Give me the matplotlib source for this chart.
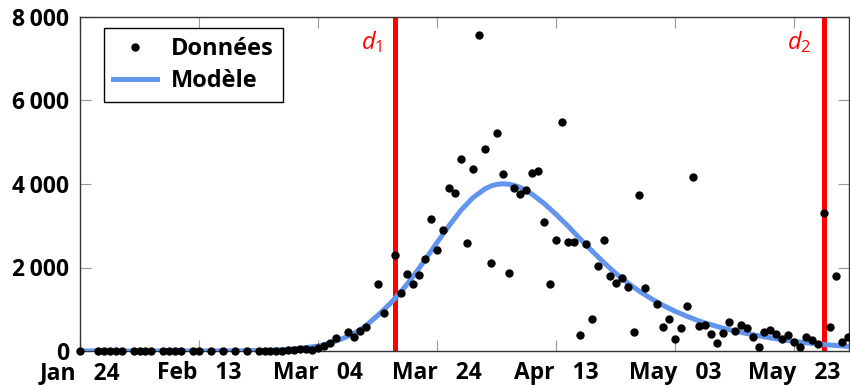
import numpy as np
import matplotlib
matplotlib.use('Agg')
import matplotlib.pyplot as plt
from matplotlib.lines import Line2D

plt.rcParams['font.family'] = ['Open Sans', 'DejaVu Sans']
plt.rcParams['mathtext.fontset'] = 'custom'
plt.rcParams['mathtext.it'] = 'Open Sans:italic'
plt.rcParams['mathtext.rm'] = 'Open Sans'

# ---- data : days counted from Jan 24 ----
days = [0, 3, 4, 5, 6, 7, 9, 10, 11, 12, 14, 15, 16, 17, 19, 20, 22, 24, 26, 28,
        30, 31, 32, 33, 34, 35, 36, 37, 38, 39, 40, 41, 42, 43, 45, 46, 47, 48, 50, 51,
        53, 54, 55, 56, 57, 58, 59, 60, 61, 62, 63, 64, 65, 66, 67, 68, 69, 70, 71, 72,
        73, 74, 75, 76, 77, 78, 79, 80, 81, 82, 83, 84, 85, 86, 87, 88, 89, 90, 91, 92,
        93, 94, 95, 97, 98, 99, 100, 101, 102, 103, 104, 105, 106, 107, 108, 109, 110, 111, 112, 113,
        114, 115, 116, 117, 118, 119, 120, 121, 122, 123, 124, 125, 126, 127, 128, 129]
cases = [0, 0, 0, 0, 0, 0, 0, 0, 0, 0, 0, 0, 0, 0, 0, 0, 0, 0, 0, 0,
         0, 0, 0, 0, 5, 20, 25, 40, 55, 20, 70, 130, 190, 315, 447, 347, 479, 575, 1608, 902,
         2288, 1385, 1844, 1597, 1828, 2211, 3154, 2426, 2905, 3896, 3792, 4591, 2579, 4351, 7560, 4846, 2100, 5213, 4247, 1860,
         3896, 3756, 3860, 4259, 4323, 3094, 1597, 2656, 5485, 2614, 2614, 390, 2552, 766, 2036, 2654, 1806, 1636, 1760, 1521,
         445, 3744, 1505, 1126, 583, 766, 287, 559, 1086, 4163, 603, 627, 419, 184, 435, 687, 479, 615, 543, 347,
         96, 463, 503, 404, 291, 383, 223, 96, 343, 263, 167, 3313, 583, 1808, 219, 327]

# fitted model, sampled every two days
model_days = [0, 20, 26, 30, 32, 34, 36, 38, 40, 42, 44, 46, 48, 50, 52, 54, 56, 58, 60, 62,
              64, 66, 68, 69, 70, 71, 72, 73, 74, 76, 78, 80, 82, 84, 86, 88, 90, 92, 94, 96,
              98, 100, 102, 104, 106, 108, 110, 112, 114, 116, 118, 120, 122, 124, 126, 128, 130]
model_vals = [0, 1, 4, 10, 18, 30, 50, 80, 120, 190, 290, 420, 600, 850, 1120, 1430, 1790, 2190, 2600, 3000,
              3370, 3670, 3880, 3950, 3990, 4005, 3995, 3965, 3915, 3750, 3530, 3270, 2990, 2690, 2400, 2120, 1860, 1630, 1430, 1250,
              1090, 950, 830, 720, 630, 550, 480, 420, 365, 315, 270, 232, 198, 168, 143, 121, 102]

d1_day = 53   # Mar 17
d2_day = 125  # May 28

tick_days = [0, 20, 40, 60, 80, 100, 120]
tick_labels = ['Jan   24', 'Feb   13', 'Mar   04', 'Mar   24', 'Apr   13', 'May   03', 'May   23']
y_ticks = [0, 2000, 4000, 6000, 8000]
y_labels = ['0', '2\u2009000', '4\u2009000', '6\u2009000', '8\u2009000']

fig = plt.figure(figsize=(8.5, 3.85), dpi=100)
ax = fig.add_axes([80/850, 1 - 351/385, 769/850, 334/385])

ax.axvline(d1_day, color='#ff0000', lw=3.6, zorder=2)
ax.axvline(d2_day, color='#ff0000', lw=3.6, zorder=2)
ax.plot(model_days, model_vals, color='#6495ed', lw=3.6, solid_capstyle='butt', zorder=3)
ax.plot(days, cases, 'o', color='black', ms=5, zorder=4, clip_on=False)

ax.text(d1_day - 2.2, 7400, r'$d_1$', color='#ff0000', fontsize=17, ha='right', va='center')
ax.text(d2_day - 2.2, 7400, r'$d_2$', color='#ff0000', fontsize=17, ha='right', va='center')

ax.set_xlim(0, 129.2)
ax.set_ylim(0, 8000)
ax.set_xticks(tick_days)
ax.set_xticklabels(tick_labels, fontsize=16.5, fontweight='bold')
ax.set_yticks(y_ticks)
ax.set_yticklabels(y_labels, fontsize=16.5, fontweight='bold')
ax.tick_params(direction='in', length=8, width=0.8, color='#999999', top=True, right=True)
ax.tick_params(axis='x', pad=7)
ax.tick_params(axis='y', pad=8)
for s in ax.spines.values():
    s.set_color('#333333')
    s.set_linewidth(1.0)

handles = [Line2D([], [], marker='o', color='black', ls='none', ms=5),
           Line2D([], [], color='#6495ed', lw=3.6)]
leg = ax.legend(handles, ['Données', 'Modèle'], loc='upper left',
                bbox_to_anchor=(24/769, 323/334), borderaxespad=0,
                fancybox=False, framealpha=1, edgecolor='black',
                prop={'size': 17, 'weight': 'bold'}, handlelength=1.85,
                handletextpad=0.6, labelspacing=0.32, borderpad=0.4)
leg.get_frame().set_linewidth(1.0)

fig.savefig('out.png', dpi=100)
